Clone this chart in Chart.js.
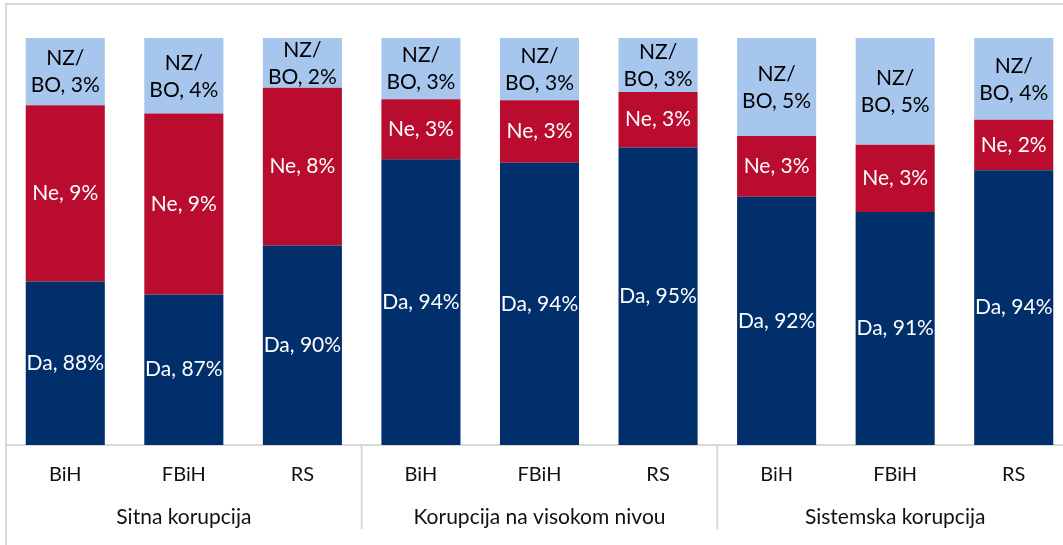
<!DOCTYPE html>
<html>
<head>
<meta charset="utf-8">
<script src="https://cdn.jsdelivr.net/npm/chart.js@4"></script>
<style>
  html, body { margin: 0; padding: 0; background: #fff; overflow: hidden; }
  #frame { position: absolute; left: 5px; top: 3px; width: 1200px; height: 700px; border: 2px solid #d9d9d9; }
  #wrap { position: absolute; left: 0; top: 0; width: 1080px; height: 545px; }
</style>
</head>
<body>
<div id="frame"></div>
<div id="wrap"><canvas id="chart"></canvas></div>
<script>
const categories = ["BiH", "FBiH", "RS", "BiH", "FBiH", "RS", "BiH", "FBiH", "RS"];
const groups = ["Sitna korupcija", "Korupcija na visokom nivou", "Sistemska korupcija"];
const seriesNames = ["Da", "Ne", "NZ/BO"];
const daValues = [88.03, 87.4, 89.8, 94.04, 93.87, 94.62, 92.2, 91.45, 93.5];
const neValues = [8.67, 8.89, 7.75, 2.95, 3.07, 2.73, 2.98, 3.3, 2.48];
const nzValues = [3.3, 3.71, 2.45, 3.01, 3.06, 2.65, 4.82, 5.25, 4.02];

const FONT = "Lato, 'Open Sans', sans-serif";

// labels inside the visible part of each segment
const segmentLabels = {
  id: "segmentLabels",
  afterDatasetsDraw(chart) {
    const ctx = chart.ctx;
    const area = chart.chartArea;
    ctx.save();
    ctx.font = "21px " + FONT;
    ctx.textAlign = "center";
    ctx.textBaseline = "middle";
    chart.data.datasets.forEach((ds, i) => {
      const meta = chart.getDatasetMeta(i);
      meta.data.forEach((bar, j) => {
        const top = Math.max(bar.y, area.top);
        const bottom = Math.min(bar.base, area.bottom);
        const mid = (top + bottom) / 2;
        const pct = Math.round(ds.data[j]) + "%";
        ctx.fillStyle = ds.labelColor;
        if (ds.label === "NZ/BO") {
          ctx.fillText("NZ/", bar.x, mid - 13);
          ctx.fillText("BO, " + pct, bar.x, mid + 14);
        } else {
          ctx.fillText(ds.label + ", " + pct, bar.x, mid);
        }
      });
    });
    ctx.restore();
  }
};

// group labels and separators under the category ticks
const groupAxis = {
  id: "groupAxis",
  afterDraw(chart) {
    const ctx = chart.ctx;
    const x = chart.scales.x;
    const area = chart.chartArea;
    ctx.save();
    ctx.strokeStyle = "#d9d9d9";
    ctx.lineWidth = 2;
    for (let g = 1; g < groups.length; g++) {
      const sx = (x.getPixelForValue(g * 3 - 1) + x.getPixelForValue(g * 3)) / 2;
      ctx.beginPath();
      ctx.moveTo(sx, area.bottom);
      ctx.lineTo(sx, area.bottom + 84);
      ctx.stroke();
    }
    ctx.font = "21px " + FONT;
    ctx.fillStyle = "#111";
    ctx.textAlign = "center";
    ctx.textBaseline = "middle";
    groups.forEach((name, g) => {
      const cx = x.getPixelForValue(g * 3 + 1);
      ctx.fillText(name, cx, area.bottom + 72);
    });
    ctx.restore();
  }
};

new Chart(document.getElementById("chart"), {
  type: "bar",
  data: {
    labels: categories,
    datasets: [
      { label: seriesNames[0], data: daValues, backgroundColor: "#002F6C", labelColor: "#fff" },
      { label: seriesNames[1], data: neValues, backgroundColor: "#BA0C2F", labelColor: "#fff" },
      { label: seriesNames[2], data: nzValues, backgroundColor: "#A7C6ED", labelColor: "#000" }
    ]
  },
  options: {
    responsive: true,
    maintainAspectRatio: false,
    animation: false,
    categoryPercentage: 1,
    barPercentage: 0.667,
    layout: { padding: { left: 6, right: 7, top: 38, bottom: 0 } },
    plugins: {
      legend: { display: false },
      tooltip: { enabled: false }
    },
    scales: {
      x: {
        stacked: true,
        grid: { display: false, drawTicks: false },
        border: { display: true, color: "#d9d9d9", width: 2 },
        ticks: { color: "#111", font: { family: FONT, size: 20 }, padding: 18, maxRotation: 0 },
        afterFit(scale) { scale.height = 100; }
      },
      y: {
        stacked: true,
        display: false,
        min: 80,
        max: 100
      }
    }
  },
  plugins: [segmentLabels, groupAxis]
});
</script>
</body>
</html>
